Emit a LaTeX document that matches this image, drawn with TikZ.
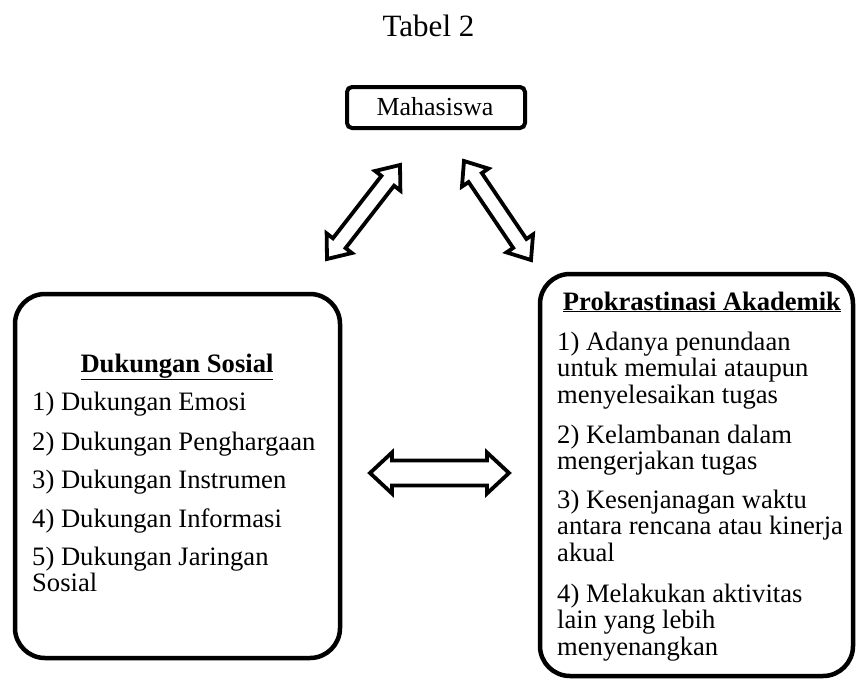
\documentclass[tikz,border=0pt]{standalone}
\usepackage{fontspec}
\setmainfont{Liberation Serif}
\usetikzlibrary{calc}
\newcommand\stacklines[1]{\vtop{\baselineskip=26.8pt\lineskiplimit=-20pt #1}}
\tikzset{
  x=1pt, y=-1pt,
  txt/.style={inner sep=0pt, anchor=base west, font=\fontsize{26.6}{26.8}\selectfont},
  headtxt/.style={inner sep=0pt, anchor=base, font=\fontsize{26.6}{26.8}\selectfont\bfseries},
  bigbox/.style={draw, line width=4.5pt, rounded corners=30pt},
  arrowline/.style={draw, line width=3.8pt, line join=miter, fill=white},
}
\newcommand\blockarrow[5]{%
  \coordinate (ba1) at ($(#1)!#5!(#2)$);
  \coordinate (ba2) at ($(#2)!#5!(#1)$);
  \draw[arrowline] (#1) -- ($(ba1)!#4!90:(#2)$) -- ($(ba1)!#3!90:(#2)$)
    -- ($(ba2)!#3!-90:(#1)$) -- ($(ba2)!#4!-90:(#1)$) -- (#2)
    -- ($(ba2)!#4!90:(#1)$) -- ($(ba2)!#3!90:(#1)$)
    -- ($(ba1)!#3!-90:(#2)$) -- ($(ba1)!#4!-90:(#2)$) -- cycle;}
\begin{document}
\begin{tikzpicture}
\useasboundingbox (0,0) rectangle (856,680);
% title
\node[inner sep=0pt, anchor=base, font=\fontsize{31}{31}\selectfont] (title) at (428.5,36) {Tabel 2};
% Mahasiswa
\draw[line width=4pt, rounded corners=5pt] (347,87) rectangle (525,128);
\node[inner sep=0pt, anchor=base, font=\fontsize{26}{26}\selectfont] (mhs) at (435,115) {Mahasiswa};
% left box
\draw[bigbox] (15,294) rectangle (340,658);
\node[headtxt] (ds) at (177,372) {\underline{Dukungan Sosial}};
\node[txt] (d1) at (32,410) {1) Dukungan Emosi};
\node[txt] (d2) at (32,450) {2) Dukungan Penghargaan};
\node[txt] (d3) at (32,488) {3) Dukungan Instrumen};
\node[txt] (d4) at (32,527) {4) Dukungan Informasi};
\node[txt] (d5) at (32,565) {\stacklines{\hbox{5) Dukungan Jaringan}\hbox{Sosial}}};
% right box
\draw[bigbox] (540,274) rectangle (853,676);
\node[headtxt] (pa) at (702,310) {\underline{Prokrastinasi Akademik}};
\node[txt] (p1) at (557,350) {\stacklines{\hbox{1) Adanya penundaan}\hbox{untuk memulai ataupun}\hbox{menyelesaikan tugas}}};
\node[txt] (p2) at (557,443) {\stacklines{\hbox{2) Kelambanan dalam}\hbox{mengerjakan tugas}}};
\node[txt] (p3) at (557,508) {\stacklines{\hbox{3) Kesenjanagan waktu}\hbox{antara rencana atau kinerja}\hbox{akual}}};
\node[txt] (p4) at (557,602) {\stacklines{\hbox{4) Melakukan aktivitas}\hbox{lain yang lebih}\hbox{menyenangkan}}};
% arrows
\coordinate (la) at (327,259);
\coordinate (lb) at (400,165);
\coordinate (ra) at (464,161);
\coordinate (rb) at (531,260);
\coordinate (ha) at (370,473);
\coordinate (hb) at (509,473);
\blockarrow{la}{lb}{8pt}{16pt}{20pt}
\blockarrow{ra}{rb}{8pt}{16pt}{20pt}
\blockarrow{ha}{hb}{12.5pt}{20.5pt}{22pt}
\end{tikzpicture}
\end{document}
